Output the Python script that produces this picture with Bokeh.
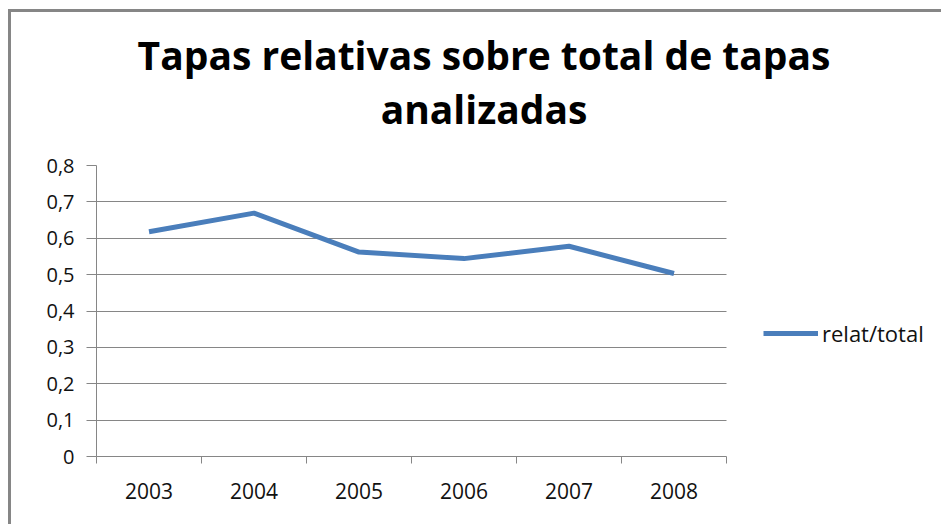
from bokeh.plotting import figure
from bokeh.models import (Range1d, FixedTicker, Legend, LegendItem, Label,
                          ColumnDataSource)
from bokeh.embed import file_html
from bokeh.resources import INLINE

# ---- data ----
years = ["2003", "2004", "2005", "2006", "2007", "2008"]
relat_total = [0.618, 0.669, 0.562, 0.544, 0.578, 0.503]
series_name = "relat/total"
y_ticks = [0.0, 0.1, 0.2, 0.3, 0.4, 0.5, 0.6, 0.7, 0.8]
y_tick_labels = ["0", "0,1", "0,2", "0,3", "0,4", "0,5", "0,6", "0,7", "0,8"]
y_grid = [0.1, 0.2, 0.3, 0.4, 0.5, 0.6, 0.7]
title_lines = ["Tapas relativas sobre total de tapas", "analizadas"]

# category positions (each category occupies one unit; point at its centre)
n = len(years)
x_centers = [i + 0.5 for i in range(n)]
x_bounds = [float(i) for i in range(n + 1)]

GRAY = "#868686"
BLUE = "#4A7EBB"
FONT = "Open Sans"

# ---- layout (pixels) ----
W, H = 933, 515            # canvas size (border + offset take the rest)
LEFT, BOTTOM = 85, 71      # axis panels
FRAME_W = W - LEFT
FRAME_H = H - BOTTOM
CAT_PX = 105               # width of one category
PLOT_H = 291               # height of the 0..0.8 value span

x_end = FRAME_W / CAT_PX
y_end = y_ticks[-1] * FRAME_H / PLOT_H

p = figure(width=W, height=H, output_backend="svg", toolbar_location=None,
           x_range=Range1d(0, x_end), y_range=Range1d(0, y_end),
           min_border_left=LEFT, min_border_right=0, min_border_top=0,
           min_border_bottom=BOTTOM)
p.outline_line_color = None
p.background_fill_color = "white"
p.border_fill_color = "white"
p.styles = {"margin-left": "8px", "margin-top": "9px",
            "border-left": "3px solid #868686",
            "border-top": "3px solid #868686"}

src = ColumnDataSource(dict(x=x_centers, y=relat_total))
r = p.line("x", "y", source=src, line_color=BLUE, line_width=5)

# y axis
ya = p.yaxis[0]
ya.bounds = (y_ticks[0], y_ticks[-1])
ya.ticker = FixedTicker(ticks=y_ticks)
ya.major_label_overrides = {t: l for t, l in zip(y_ticks, y_tick_labels)}
ya.axis_line_color = GRAY
ya.major_tick_line_color = GRAY
ya.major_tick_out = 10
ya.major_tick_in = 0
ya.minor_tick_line_color = None
ya.major_label_standoff = 12
ya.major_label_text_font = FONT
ya.major_label_text_font_size = "20px"
ya.major_label_text_color = "#111111"

# x axis
xa = p.xaxis[0]
xa.bounds = (0, n)
xa.ticker = FixedTicker(ticks=x_centers, minor_ticks=x_bounds)
xa.major_label_overrides = {c: y for c, y in zip(x_centers, years)}
xa.axis_line_color = GRAY
xa.major_tick_line_color = None
xa.major_tick_out = 0
xa.major_tick_in = 0
xa.minor_tick_line_color = GRAY
xa.minor_tick_out = 7
xa.minor_tick_in = 0
xa.major_label_standoff = 19
xa.major_label_text_font = FONT
xa.major_label_text_font_size = "21px"
xa.major_label_text_color = "#111111"

# grid (limited to the category span)
p.xgrid.grid_line_color = None
yg = p.ygrid[0]
yg.ticker = FixedTicker(ticks=y_grid)
yg.grid_line_color = GRAY
yg.grid_line_width = 1
if "cross_bounds" in yg.properties():
    yg.cross_bounds = (0, n)

# legend (to the right of the plot area)
legend = Legend(items=[LegendItem(label=series_name, renderers=[r])],
                location=(667, 108), padding=0, margin=0,
                border_line_color=None, background_fill_alpha=0,
                glyph_width=55, glyph_height=20, label_height=20,
                label_standoff=4, label_text_font=FONT,
                label_text_font_size="22px", label_text_color="#111111")
p.add_layout(legend, "center")

# title (two centred lines)
for txt, yb in zip(title_lines, [402, 348]):
    p.add_layout(Label(x=387.5, y=yb, x_units="screen", y_units="screen",
                       text=txt, text_align="center",
                       text_baseline="alphabetic", text_font=FONT,
                       text_font_style="bold", text_font_size="39px",
                       text_color="black"))

open("out.html", "w").write(file_html(p, INLINE))
